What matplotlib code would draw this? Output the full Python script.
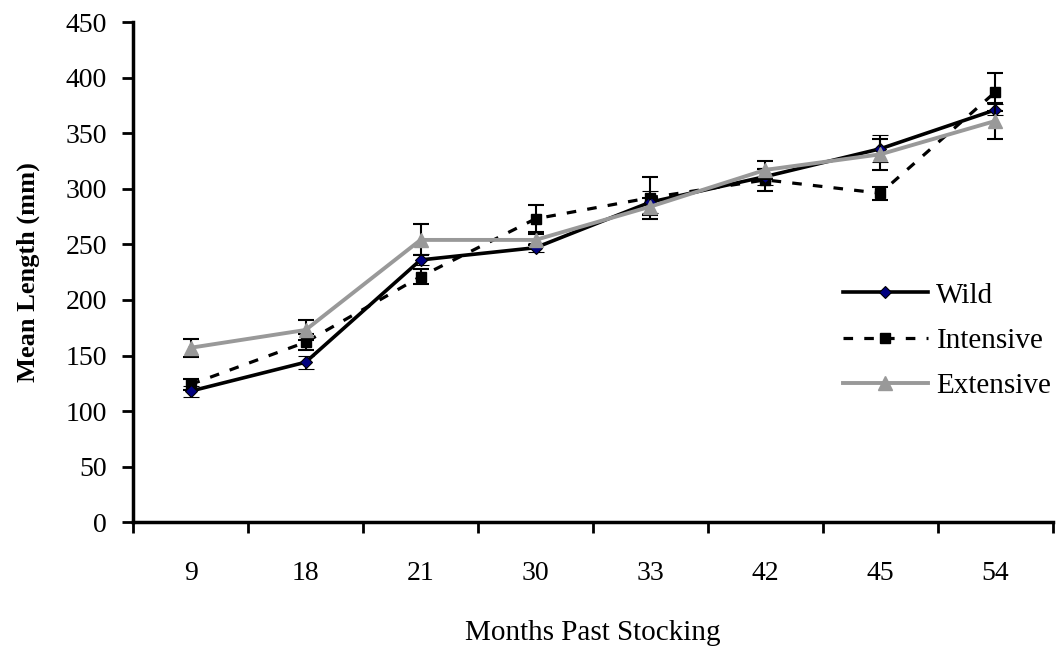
import numpy as np
import matplotlib
matplotlib.use('Agg')
import matplotlib.pyplot as plt
from matplotlib.lines import Line2D

plt.rcParams['font.family'] = ['Liberation Serif', 'DejaVu Serif']

months = ['9', '18', '21', '30', '33', '42', '45', '54']

wild = [118, 144, 236, 247, 288, 311, 336, 371]
wild_err = [5, 6, 5, 4, 10, 8, 12, 5]

intensive = [124, 162, 221, 273, 292, 308, 296, 387]
intensive_err = [5, 7, 7, 12, 19, 10, 6, 17]

extensive = [157, 173, 254, 254, 284, 317, 331, 361]
extensive_err = [8, 9, 14, 5, 8, 8, 14, 16]

fig = plt.figure(figsize=(10.57, 6.48), dpi=100)
ax = fig.add_axes([0.126, 0.194, 0.870, 0.772])

x = np.arange(len(months))
err_kw = dict(ecolor='black', elinewidth=1.5, capsize=5.5, capthick=1.5)

wild_style = dict(color='black', lw=2.6, marker='D', ms=6.5, mfc='#000080',
                  mec='black', mew=0.8)
intensive_style = dict(color='black', lw=2.3, ls=(0, (3, 3.5)), marker='s',
                       ms=7.5, mfc='black', mec='black')
extensive_style = dict(color='#999999', lw=2.8, marker='^', ms=10,
                       mfc='#999999', mec='#999999')

ax.errorbar(x, wild, yerr=wild_err, zorder=4, **wild_style, **err_kw)
ax.errorbar(x, intensive, yerr=intensive_err, zorder=3, **intensive_style, **err_kw)
ax.errorbar(x, extensive, yerr=extensive_err, zorder=5, **extensive_style, **err_kw)

ax.set_xlim(-0.5, len(months) - 0.5)
ax.set_ylim(0, 450)
ax.set_yticks(range(0, 451, 50))
ax.set_xticks(x)
ax.set_xticklabels(months)
ax.set_xticks(np.arange(-0.5, len(months)), minor=True)
ax.tick_params(axis='x', which='major', length=0, pad=28, labelsize=20)
ax.tick_params(axis='x', which='minor', length=8, width=2, direction='out')
ax.tick_params(axis='y', length=8, width=2, direction='out', labelsize=20, pad=11)

for side in ['top', 'right']:
    ax.spines[side].set_visible(False)
for side in ['left', 'bottom']:
    ax.spines[side].set_linewidth(2.5)

ax.set_ylabel('Mean Length (mm)', fontsize=19, fontweight='bold', labelpad=18)
ax.set_xlabel('Months Past Stocking', fontsize=21, labelpad=24)

handles = [Line2D([], [], **wild_style),
           Line2D([], [], **intensive_style),
           Line2D([], [], **extensive_style)]
ax.legend(handles, ['Wild', 'Intensive', 'Extensive'], loc='upper left',
          bbox_to_anchor=(0.772, 0.48), frameon=False, fontsize=21,
          handlelength=2.9, handletextpad=0.3, labelspacing=0.65,
          borderpad=0, borderaxespad=0)

fig.savefig('out.png', dpi=100)
